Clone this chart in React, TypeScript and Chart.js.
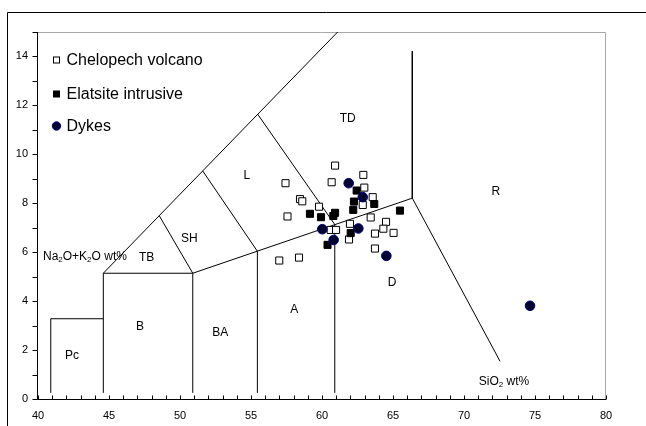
import React, { useEffect, useRef } from 'react';
import { Chart, registerables } from 'chart.js';

Chart.register(...registerables);

// ---- tick labels ----
const xTickValues = [40, 45, 50, 55, 60, 65, 70, 75, 80];
const yTickValues = [0, 2, 4, 6, 8, 10, 12, 14];

// ---- samples (SiO2 wt%, Na2O+K2O wt%) ----
const chelopechSiO2 = [60.92, 62.91, 60.68, 57.43, 62.98, 63.57, 58.45, 58.61, 62.87, 59.79, 57.57, 63.43, 61.97, 64.51, 64.32, 60.61, 60.99, 65.04, 63.73, 61.9, 63.73, 58.38, 56.99];
const chelopechAlk = [9.54, 9.16, 8.86, 8.82, 8.64, 8.25, 8.17, 8.08, 7.93, 7.86, 7.46, 7.42, 7.16, 7.24, 6.96, 6.91, 6.91, 6.79, 6.76, 6.52, 6.15, 5.78, 5.66];

const elatsiteSiO2 = [62.44, 62.25, 63.68, 62.2, 59.15, 60.92, 60.8, 59.93, 65.49, 62.02, 60.39];
const elatsiteAlk = [8.52, 8.07, 7.97, 7.73, 7.57, 7.61, 7.48, 7.43, 7.7, 6.78, 6.3];

const dykesSiO2 = [61.88, 62.87, 60.02, 62.56, 60.82, 64.53, 74.65];
const dykesAlk = [8.82, 8.25, 6.94, 6.97, 6.5, 5.85, 3.81];

// ---- TAS field boundaries (polylines, [SiO2, alkalis]) ----
const boundaries: number[][][] = [
  [[40.9, 0.25], [40.9, 3.28], [44.6, 3.28]],
  [[44.6, 0.25], [44.6, 5.14], [50.9, 5.14]],
  [[50.9, 0.25], [50.9, 5.14], [66.36, 8.21]],
  [[55.45, 0.25], [55.45, 6.04]],
  [[60.9, 0.25], [60.9, 7.13]],
  [[44.6, 5.14], [61.1, 15]],
  [[48.54, 7.49], [50.9, 5.14]],
  [[51.6, 9.32], [55.45, 6.04]],
  [[55.47, 11.64], [60.9, 7.13]],
  [[66.36, 14.22], [66.36, 8.21], [72.54, 1.54]],
];

// ---- field names ----
const fieldNames = ['TD', 'R', 'L', 'SH', 'TB', 'D', 'A', 'BA', 'B', 'Pc'];
const fieldSiO2 = [61.81, 72.25, 54.7, 50.66, 47.65, 64.93, 58.05, 52.83, 47.18, 42.39];
const fieldAlk = [11.47, 8.48, 9.14, 6.57, 5.76, 4.74, 3.65, 2.69, 2.97, 1.76];

const seriesNames = ['Chelopech volcano', 'Elatsite intrusive', 'Dykes'];

const FONT = '"Liberation Sans", Arial, Helvetica, sans-serif';
const DYKE_FILL = '#000030';
const DYKE_BORDER = '#000080';

type Part = [string, boolean];

function drawRich(ctx: CanvasRenderingContext2D, parts: Part[], x: number, y: number, size: number, align: 'left' | 'center') {
  const sub = Math.round(size * 0.7);
  let total = 0;
  const widths = parts.map(([t, s]) => {
    ctx.font = `${s ? sub : size}px ${FONT}`;
    const w = ctx.measureText(t).width;
    total += w;
    return w;
  });
  let cx = align === 'center' ? x - total / 2 : x;
  ctx.textAlign = 'left';
  ctx.textBaseline = 'middle';
  parts.forEach(([t, s], i) => {
    ctx.font = `${s ? sub : size}px ${FONT}`;
    ctx.fillText(t, cx, s ? y + 3 : y);
    cx += widths[i];
  });
}

const decorPlugin = {
  id: 'decor',
  beforeDatasetsDraw(chart: any) {
    const ctx: CanvasRenderingContext2D = chart.ctx;
    const ca = chart.chartArea;
    const xs = chart.scales.x;
    const ys = chart.scales.y;
    ctx.save();
    ctx.lineWidth = 1;
    // outer frame
    ctx.strokeStyle = '#000';
    ctx.beginPath();
    ctx.moveTo(7.5, 426);
    ctx.lineTo(7.5, 12.5);
    ctx.lineTo(646, 12.5);
    ctx.stroke();
    // plot area border (top/right)
    ctx.strokeStyle = '#a8a8a8';
    ctx.beginPath();
    ctx.moveTo(ca.left, Math.round(ca.top) + 0.5);
    ctx.lineTo(Math.round(ca.right) - 0.5, Math.round(ca.top) + 0.5);
    ctx.lineTo(Math.round(ca.right) - 0.5, ca.bottom);
    ctx.stroke();
    // axes
    ctx.strokeStyle = '#000';
    const ax = Math.round(ca.left) - 0.5;
    const ay = Math.round(ca.bottom) + 0.5;
    ctx.beginPath();
    ctx.moveTo(ax, ca.top);
    ctx.lineTo(ax, ay);
    ctx.lineTo(ca.right, ay);
    ctx.stroke();
    // y ticks (every unit, outward)
    ctx.beginPath();
    for (let v = ys.min; v <= ys.max; v += 1) {
      const py = Math.round(ys.getPixelForValue(v)) + 0.5;
      ctx.moveTo(ax - 5, py);
      ctx.lineTo(ax, py);
    }
    // x ticks (every unit, inward)
    for (let v = xs.min; v <= xs.max; v += 1) {
      const px = Math.round(xs.getPixelForValue(v)) + 0.5;
      ctx.moveTo(px, ay);
      ctx.lineTo(px, ay - 4);
    }
    ctx.stroke();

    // field names
    ctx.fillStyle = '#000';
    ctx.font = `12px ${FONT}`;
    ctx.textAlign = 'center';
    ctx.textBaseline = 'middle';
    fieldNames.forEach((n, i) => {
      ctx.fillText(n, xs.getPixelForValue(fieldSiO2[i]), ys.getPixelForValue(fieldAlk[i]));
    });
    // axis titles inside plot
    drawRich(ctx, [['Na', false], ['2', true], ['O+K', false], ['2', true], ['O wt%', false]], xs.getPixelForValue(40.35), ys.getPixelForValue(5.82), 12, 'left');
    drawRich(ctx, [['SiO', false], ['2', true], [' wt%', false]], xs.getPixelForValue(72.82), ys.getPixelForValue(0.72), 12, 'center');
    ctx.restore();
  },
  afterDatasetsDraw(chart: any) {
    const ctx: CanvasRenderingContext2D = chart.ctx;
    ctx.save();
    const mx = 56.5;
    const rows = [60, 94, 126];
    // legend markers
    ctx.lineWidth = 1;
    ctx.strokeStyle = '#000';
    ctx.fillStyle = '#fff';
    ctx.fillRect(mx - 3, rows[0] - 3, 6, 6);
    ctx.strokeRect(mx - 3, rows[0] - 3, 6, 6);
    ctx.fillStyle = '#000';
    ctx.fillRect(mx - 3.5, rows[1] - 3.5, 7, 7);
    ctx.beginPath();
    ctx.arc(mx, rows[2], 4.2, 0, Math.PI * 2);
    ctx.fillStyle = DYKE_FILL;
    ctx.fill();
    ctx.strokeStyle = DYKE_BORDER;
    ctx.stroke();
    ctx.fillStyle = '#000';
    ctx.font = `16px ${FONT}`;
    ctx.textAlign = 'left';
    ctx.textBaseline = 'middle';
    seriesNames.forEach((n, i) => ctx.fillText(n, 66.5, rows[i] + 1));
    ctx.restore();
  },
};

export default function App() {
  const canvasRef = useRef<HTMLCanvasElement | null>(null);

  useEffect(() => {
    if (!canvasRef.current) return;
    const toPts = (xs: number[], ys: number[]) => xs.map((x, i) => ({ x, y: ys[i] }));
    const lineSets = boundaries.map((poly) => ({
      type: 'scatter' as const,
      label: '',
      data: poly.map(([x, y]) => ({ x, y })),
      showLine: true,
      borderColor: '#000',
      borderWidth: 1,
      pointRadius: 0,
      fill: false,
      order: 5,
    }));
    const chart = new Chart(canvasRef.current, {
      type: 'scatter',
      data: {
        datasets: [
          {
            label: seriesNames[2],
            data: toPts(dykesSiO2, dykesAlk),
            pointStyle: 'circle',
            pointRadius: 4.8,
            backgroundColor: DYKE_FILL,
            borderColor: DYKE_BORDER,
            borderWidth: 1,
            order: 0,
          },
          {
            label: seriesNames[1],
            data: toPts(elatsiteSiO2, elatsiteAlk),
            pointStyle: 'rect',
            pointRadius: 5,
            backgroundColor: '#000',
            borderColor: '#000',
            borderWidth: 1,
            order: 1,
          },
          {
            label: seriesNames[0],
            data: toPts(chelopechSiO2, chelopechAlk),
            pointStyle: 'rect',
            pointRadius: 5,
            backgroundColor: '#fff',
            borderColor: '#000',
            borderWidth: 1,
            order: 2,
          },
          ...lineSets,
        ] as any,
      },
      options: {
        animation: false,
        responsive: false,
        devicePixelRatio: 1,
        layout: { padding: { left: 0, top: 32, right: 40, bottom: 0 } },
        plugins: { legend: { display: false }, tooltip: { enabled: false } },
        events: [],
        scales: {
          x: {
            type: 'linear',
            min: 40,
            max: 80,
            afterFit: (s: any) => { s.height = 27; },
            afterBuildTicks: (s: any) => { s.ticks = xTickValues.map((v) => ({ value: v })); },
            grid: { display: false, drawTicks: false },
            border: { display: false },
            ticks: { padding: 10, color: '#000', font: { size: 11, family: FONT }, maxRotation: 0, autoSkip: false },
          },
          y: {
            type: 'linear',
            min: 0,
            max: 15,
            afterFit: (s: any) => { s.width = 38; },
            afterBuildTicks: (s: any) => { s.ticks = yTickValues.map((v) => ({ value: v })); },
            grid: { display: false, drawTicks: false },
            border: { display: false },
            ticks: { padding: 10, color: '#000', font: { size: 11, family: FONT }, autoSkip: false },
          },
        },
      },
      plugins: [decorPlugin],
    });
    return () => chart.destroy();
  }, []);

  return (
    <div style={{ position: 'absolute', left: 0, top: 0, width: 646, height: 426, background: '#fff' }}>
      <canvas ref={canvasRef} width={646} height={426} style={{ display: 'block' }} />
    </div>
  );
}
